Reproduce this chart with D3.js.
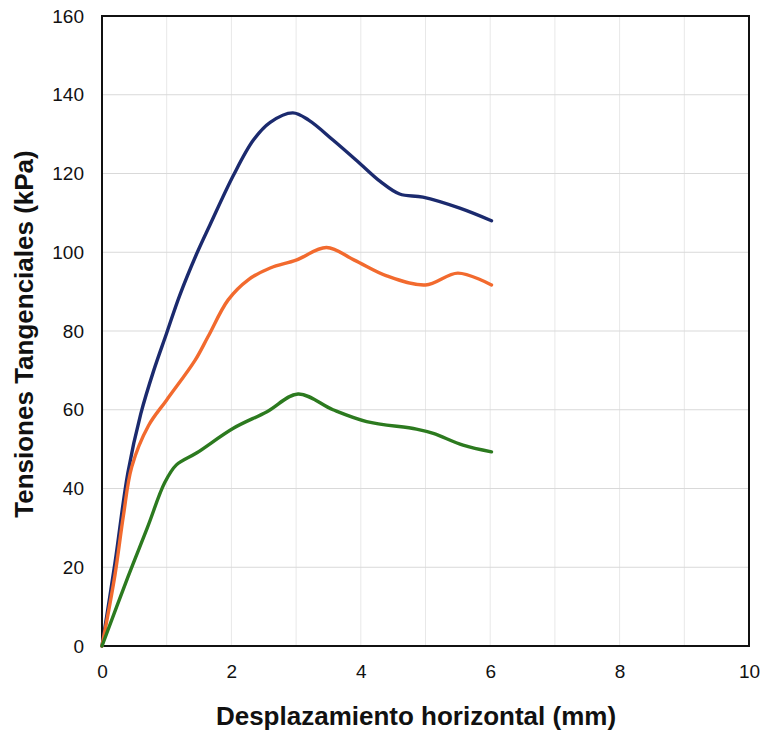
<!DOCTYPE html>
<html><head><meta charset="utf-8">
<script src="https://cdn.jsdelivr.net/npm/d3@7"></script>
<style>body{margin:0;background:#fff}svg{display:block}</style>
</head><body>
<svg id="chart" width="761" height="730"></svg>
<script>
const xTicks = [0, 2, 4, 6, 8, 10];
const yTicks = [0, 20, 40, 60, 80, 100, 120, 140, 160];
const xTitle = "Desplazamiento horizontal (mm)";
const yTitle = "Tensiones Tangenciales (kPa)";

const blueX = [0, 0.2, 0.4, 0.6, 0.8, 1.0, 1.2, 1.46, 1.67, 2.03, 2.34, 2.6, 2.95, 3.2, 3.57, 3.99, 4.3, 4.6, 4.96, 5.53, 6.02];
const blueY = [0, 21, 44, 59, 70, 79.5, 89, 99.5, 107, 119.5, 128.5, 133, 135.4, 133.5, 128.5, 122.5, 118, 114.8, 114, 111.2, 108];
const orangeX = [0, 0.2, 0.33, 0.46, 0.72, 1.0, 1.44, 1.64, 1.95, 2.26, 2.6, 3.0, 3.47, 3.9, 4.4, 5.0, 5.5, 6.02];
const orangeY = [0, 18, 33, 45.5, 56, 62.5, 72.6, 78.6, 87.9, 93, 96, 98, 101.2, 98, 94, 91.7, 94.7, 91.7];
const greenX = [0, 0.4, 0.7, 0.97, 1.15, 1.46, 2.03, 2.55, 3.03, 3.57, 4.09, 4.86, 5.12, 5.58, 6.02];
const greenY = [0, 17.5, 30, 41.5, 46, 49, 55.3, 59.5, 64, 60, 57, 55.1, 54, 51, 49.3];

const seriesColors = ["#1b2a6e", "#f26a2e", "#2c7a1f"];

const svg = d3.select("#chart");
const m = {l: 102, r: 12, t: 16, b: 84};
const W = 761, H = 730;
const x = d3.scaleLinear().domain([0, 10]).range([m.l, W - m.r]);
const y = d3.scaleLinear().domain([0, 160]).range([H - m.b, m.t]);

// gridlines
const g = svg.append("g");
g.selectAll("line.v").data(d3.range(1, 10)).join("line")
  .attr("x1", d => x(d)).attr("x2", d => x(d))
  .attr("y1", y(0)).attr("y2", y(160))
  .attr("stroke", "#e8e8e8").attr("stroke-width", 1);
g.selectAll("line.h").data(yTicks.slice(1, -1)).join("line")
  .attr("x1", x(0)).attr("x2", x(10))
  .attr("y1", d => y(d)).attr("y2", d => y(d))
  .attr("stroke", "#d9d9d9").attr("stroke-width", 1.2);

// axes
const xAxis = d3.axisBottom(x).tickValues(xTicks).tickSize(0).tickPadding(19);
const yAxis = d3.axisLeft(y).tickValues(yTicks).tickSize(0).tickPadding(18);
const ax = svg.append("g").attr("transform", `translate(0,${y(0)})`).call(xAxis);
const ay = svg.append("g").attr("transform", `translate(${x(0)},0)`).call(yAxis);
[ax, ay].forEach(a => {
  a.select(".domain").remove();
  a.selectAll("text").attr("font-family", "Liberation Sans, Arial, sans-serif")
    .attr("font-size", 19).attr("fill", "#111");
});

// frame
svg.append("rect").attr("x", x(0)).attr("y", y(160))
  .attr("width", x(10) - x(0)).attr("height", y(0) - y(160))
  .attr("fill", "none").attr("stroke", "#111").attr("stroke-width", 2);

// lines
const series = [[blueX, blueY], [orangeX, orangeY], [greenX, greenY]];
const line = d3.line().x(d => x(d[0])).y(d => y(d[1])).curve(d3.curveCatmullRom.alpha(0.5));
series.forEach((s, i) => {
  const pts = s[0].map((v, j) => [v, s[1][j]]);
  svg.append("path").datum(pts).attr("d", line)
    .attr("fill", "none").attr("stroke", seriesColors[i])
    .attr("stroke-width", 3.4).attr("stroke-linejoin", "round").attr("stroke-linecap", "round");
});

// titles
svg.append("text").attr("x", 416).attr("y", 725)
  .attr("text-anchor", "middle").attr("font-family", "Liberation Sans, Arial, sans-serif")
  .attr("font-weight", "bold").attr("font-size", 26).attr("fill", "#111").text(xTitle);
svg.append("text").attr("transform", `translate(33,334) rotate(-90)`)
  .attr("text-anchor", "middle").attr("font-family", "Liberation Sans, Arial, sans-serif")
  .attr("font-weight", "bold").attr("font-size", 26).attr("fill", "#111").text(yTitle);
</script>
</body></html>
